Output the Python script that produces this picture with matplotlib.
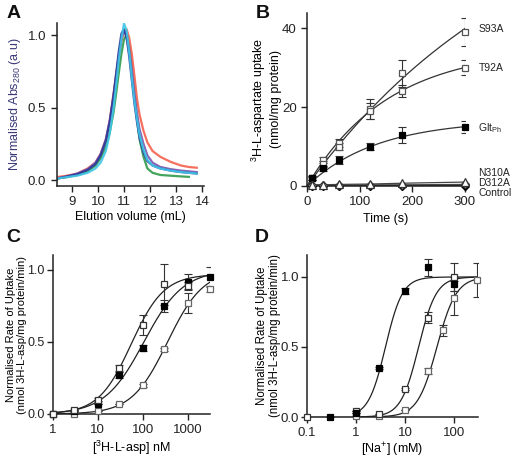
import numpy as np
import matplotlib
matplotlib.use("Agg")
import matplotlib.pyplot as plt
import matplotlib.ticker as ticker

plt.rcParams['font.family'] = ['Liberation Sans', 'DejaVu Sans']
plt.rcParams['mathtext.fontset'] = 'custom'
plt.rcParams['mathtext.rm'] = 'Liberation Sans'
plt.rcParams['mathtext.it'] = 'Liberation Sans:italic'

# ---- panel A: SEC traces ----
elution = [8.4, 8.8, 9.2, 9.6, 9.9, 10.1, 10.3, 10.45, 10.6, 10.7, 10.8, 10.9, 11.0,
           11.1, 11.2, 11.3, 11.4, 11.5, 11.6, 11.75, 11.9, 12.1, 12.4, 12.8, 13.2, 13.5, 13.8]
abs_red = [0.02, 0.03, 0.045, 0.08, 0.12, 0.18, 0.28, 0.41, 0.60, 0.73, 0.86, 0.96, 1.02,
           1.04, 0.98, 0.87, 0.72, 0.56, 0.45, 0.34, 0.26, 0.20, 0.16, 0.125, 0.10, 0.09, 0.085]
abs_purple = [0.01, 0.025, 0.045, 0.075, 0.12, 0.18, 0.28, 0.41, 0.58, 0.72, 0.86, 0.97, 1.03,
              1.00, 0.90, 0.76, 0.60, 0.46, 0.35, 0.25, 0.17, 0.12, 0.09, 0.075, 0.065, 0.06, 0.055]
abs_navy = [0.01, 0.025, 0.04, 0.07, 0.11, 0.17, 0.27, 0.40, 0.59, 0.74, 0.89, 1.01, 1.04,
            0.98, 0.85, 0.69, 0.53, 0.40, 0.29, 0.19, 0.13, 0.10, 0.08, 0.065, 0.055, 0.05, 0.045]
abs_cyan = [0.01, 0.02, 0.03, 0.05, 0.08, 0.12, 0.20, 0.32, 0.50, 0.66, 0.83, 0.97, 1.08,
            1.03, 0.88, 0.71, 0.55, 0.42, 0.31, 0.21, 0.14, 0.10, 0.08, 0.065, 0.055, 0.05, 0.045]
abs_green = [0.01, 0.02, 0.035, 0.06, 0.10, 0.15, 0.23, 0.33, 0.47, 0.60, 0.74, 0.87, 0.97,
             1.00, 0.93, 0.77, 0.58, 0.42, 0.28, 0.16, 0.08, 0.05, 0.035, 0.03, 0.025, 0.022, np.nan]

# ---- panel B: uptake time course ----
time_s = [10, 30, 60, 120, 180, 300]
s93a = [2, 6.5, 11, 19.5, 28.5, 39]
s93a_err = [0.5, 0.8, 1.0, 2.5, 3.5, 3.5]
t92a = [2, 5.5, 10, 19, 24, 30]
t92a_err = [0.5, 0.8, 1.0, 2.0, 1.5, 2.0]
gltph = [2, 4.5, 6.5, 10, 13, 15]
gltph_err = [0.4, 0.6, 1.0, 1.0, 2.0, 1.5]
n310a = [0.3, 0.3, 0.4, 0.5, 0.7, 1.0]
d312a = [0.2, 0.2, 0.2, 0.3, 0.3, 0.4]
control = [0, 0, 0, 0, 0, 0]
# one-phase association fits: (plateau, rate k)
fit_b = {"S93A": (80, 0.0023), "T92A": (35, 0.0065), "Glt": (16.8, 0.0075)}
b_labels = ["S93A", "T92A", "Glt$_{\\rm Ph}$", "N310A", "D312A", "Control"]
b_label_y = [39.7, 29.9, 14.7, 3.3, 0.8, -1.8]

# ---- panel C: aspartate dependence ----
asp_nm = [1, 3, 10, 30, 100, 300, 1000, 3000]
c_white = [0.0, 0.03, 0.10, 0.32, 0.62, 0.90, 0.89, np.nan]
c_white_err = [0, 0, 0.01, 0.02, 0.07, 0.14, 0.03, 0]
c_black = [0.0, 0.02, 0.07, 0.27, 0.46, 0.75, 0.92, 0.95]
c_black_err = [0, 0, 0, 0.02, 0.02, 0.04, 0.05, 0.07]
c_gray = [0.0, 0.0, 0.02, 0.07, 0.20, 0.45, 0.77, 0.87]
c_gray_err = [0, 0, 0, 0, 0.01, 0.01, 0.07, 0.02]
# Hill fits: (EC50, nH, top)
fit_c = [(55, 1.2, 0.97), (105, 1.0, 1.0), (350, 1.1, 1.0)]

# ---- panel D: sodium dependence ----
na_mm = [0.1, 0.3, 1, 3, 10, 30, 60, 100, 300]
d_black = [np.nan, 0.0, 0.03, 0.35, 0.90, 1.07, np.nan, 0.95, np.nan]
d_black_err = [0, 0, 0, 0.01, 0.02, 0.06, 0, 0.05, 0]
d_white = [0.0, np.nan, 0.04, 0.02, 0.20, 0.71, np.nan, 1.00, np.nan]
d_white_err = [0, 0, 0, 0, 0.01, 0.04, 0, 0.10, 0]
d_gray = [np.nan, np.nan, 0.01, 0.01, 0.05, 0.33, 0.62, 0.85, 0.98]
d_gray_err = [0, 0, 0, 0, 0, 0.02, 0.04, 0.12, 0.12]
fit_d = [(4.0, 2.5, 1.0), (19, 2.4, 1.0), (45, 2.2, 1.0)]

RATE_LABEL = "Normalised Rate of Uptake\n(nmol 3H-L-asp/mg protein/min)"


def hill(x, ec50, nh, top):
    return top / (1 + (ec50 / x) ** nh)


def style(ax, pad=3.5, ysize=9.5):
    for s in ["top", "right"]:
        ax.spines[s].set_visible(False)
    for s in ["left", "bottom"]:
        ax.spines[s].set_linewidth(1.1)
        ax.spines[s].set_color("#222222")
    ax.tick_params(direction="out", length=4, width=1.0, labelsize=9.5, colors="#222222")
    ax.tick_params(axis="y", pad=pad, labelsize=ysize)


fig = plt.figure(figsize=(5.12, 4.59), dpi=100)
H = 459.0
W = 512.0


def add_axes(left, bottom, right, top):
    return fig.add_axes([left / W, (H - bottom) / H, (right - left) / W, (bottom - top) / H])


# A
axA = add_axes(56.5, 186, 204.5, 23)
for y, c in [(abs_green, "#2e9a4a"), (abs_red, "#f4604c"), (abs_purple, "#7a55b0"),
             (abs_navy, "#2c3c9c"), (abs_cyan, "#3ec6e6")]:
    axA.plot(elution, y, color=c, lw=1.6, alpha=0.9)
axA.set_xlim(8.4, 14.1)
axA.set_ylim(-0.041, 1.083)
axA.set_xticks([9, 10, 11, 12, 13, 14])
axA.set_yticks([0, 0.5, 1.0])
axA.yaxis.set_major_formatter(ticker.FormatStrFormatter("%.1f"))
axA.set_xlabel("Elution volume (mL)", fontsize=9, labelpad=2)
axA.set_ylabel("Normalised Abs$_{280}$ (a.u)", fontsize=9, color="#3a3a78", labelpad=3)
style(axA)

# B
axB = add_axes(307, 186, 465, 13)
tt = np.linspace(0, 300, 200)
mk = dict(ms=4.5, mew=0.9, clip_on=False, zorder=4)
eb = dict(capsize=3, elinewidth=0.8, capthick=0.8, ecolor="#333333", fmt="none", zorder=3)
for key, y, err, fc, ec in [("S93A", s93a, s93a_err, "white", "#555555"),
                            ("T92A", t92a, t92a_err, "white", "#555555"),
                            ("Glt", gltph, gltph_err, "black", "black")]:
    ym, k = fit_b[key]
    axB.plot(tt, ym * (1 - np.exp(-k * tt)), color="#333333", lw=0.9)
    axB.errorbar(time_s, y, yerr=err, **eb)
    axB.plot(time_s, y, "s", mfc=fc, mec=ec, **mk)
axB.plot(time_s, control, "-", color="#222222", lw=1.6)
axB.plot(time_s, d312a, "-", color="#444444", lw=0.9)
axB.plot(time_s, n310a, "-", color="#444444", lw=0.9)
axB.plot(time_s, control, "D", mfc="black", mec="black", ms=4, clip_on=False, zorder=4)
axB.plot(time_s, d312a, "D", mfc="white", mec="#333333", ms=4, mew=0.9, clip_on=False, zorder=5)
axB.plot(time_s, n310a, "^", mfc="white", mec="#333333", ms=6, mew=0.9, clip_on=False, zorder=6)
for lab, y in zip(b_labels, b_label_y):
    axB.text(1.085, y, lab, transform=axB.get_yaxis_transform(), fontsize=7.5,
             va="center", ha="left", color="#222222")
axB.set_xlim(0, 300)
axB.set_ylim(0, 43.8)
axB.set_xticks([0, 100, 200, 300])
axB.set_yticks([0, 20, 40])
axB.set_xlabel("Time (s)", fontsize=9, labelpad=3)
axB.set_ylabel("$^3$H-L-aspartate uptake\n(nmol/mg protein)", fontsize=9, labelpad=0)
style(axB)

# C
axC = add_axes(52.5, 414, 209.7, 255)
xc = np.logspace(0, np.log10(3000), 300)
for (ec50, nh, top) in fit_c:
    axC.plot(xc, hill(xc, ec50, nh, top), color="#222222", lw=0.9)
for y, err, fc, ec in [(c_gray, c_gray_err, "white", "#666666"),
                       (c_black, c_black_err, "black", "black"),
                       (c_white, c_white_err, "white", "#333333")]:
    axC.errorbar(asp_nm, y, yerr=err, **eb)
    axC.plot(asp_nm, y, "s", mfc=fc, mec=ec, **mk)
axC.set_xscale("log")
axC.set_xlim(1, 3000)
axC.set_ylim(0, 1.104)
axC.set_xticks([1, 10, 100, 1000])
axC.xaxis.set_major_formatter(ticker.FuncFormatter(lambda v, p: format(v, "g")))
axC.xaxis.set_minor_locator(ticker.NullLocator())
axC.set_yticks([0, 0.5, 1.0])
axC.yaxis.set_major_formatter(ticker.FormatStrFormatter("%.1f"))
axC.set_xlabel("[$^3$H-L-asp] nM", fontsize=9, labelpad=2)
axC.set_ylabel(RATE_LABEL, fontsize=8, linespacing=1.1)
axC.yaxis.set_label_coords(-0.163, 0.5)
style(axC, pad=1.5, ysize=9)

# D
axD = add_axes(307, 417, 478, 255)
xd = np.logspace(0, np.log10(300), 300)
for (ec50, nh, top) in fit_d:
    axD.plot(xd, hill(xd, ec50, nh, top), color="#222222", lw=0.9)
for y, err, fc, ec in [(d_gray, d_gray_err, "white", "#666666"),
                       (d_white, d_white_err, "white", "#333333"),
                       (d_black, d_black_err, "black", "black")]:
    axD.errorbar(na_mm, y, yerr=err, **eb)
    axD.plot(na_mm, y, "s", mfc=fc, mec=ec, **mk)
axD.plot([0.1, 1], [0, 0], color="#222222", lw=0.9)
axD.set_xscale("log")
axD.set_xlim(0.1, 310)
axD.set_ylim(0, 1.157)
axD.set_xticks([0.1, 1, 10, 100])
axD.xaxis.set_major_formatter(ticker.FuncFormatter(lambda v, p: format(v, "g")))
axD.xaxis.set_minor_locator(ticker.NullLocator())
axD.set_yticks([0, 0.5, 1.0])
axD.yaxis.set_major_formatter(ticker.FormatStrFormatter("%.1f"))
axD.set_xlabel("[Na$^{+}$] (mM)", fontsize=9, labelpad=1)
axD.set_ylabel(RATE_LABEL, fontsize=8.3, linespacing=1.15)
axD.yaxis.set_label_coords(-0.15, 0.5)
style(axD, pad=1.5)

# panel letters
for lab, x, y in [("A", 7, 13), ("B", 256, 13), ("C", 6, 238), ("D", 255, 237)]:
    fig.text(x / W, 1 - y / H, lab, fontsize=14, fontweight="bold", va="center", ha="left",
             color="#111111")

fig.savefig("out.png", dpi=100)
